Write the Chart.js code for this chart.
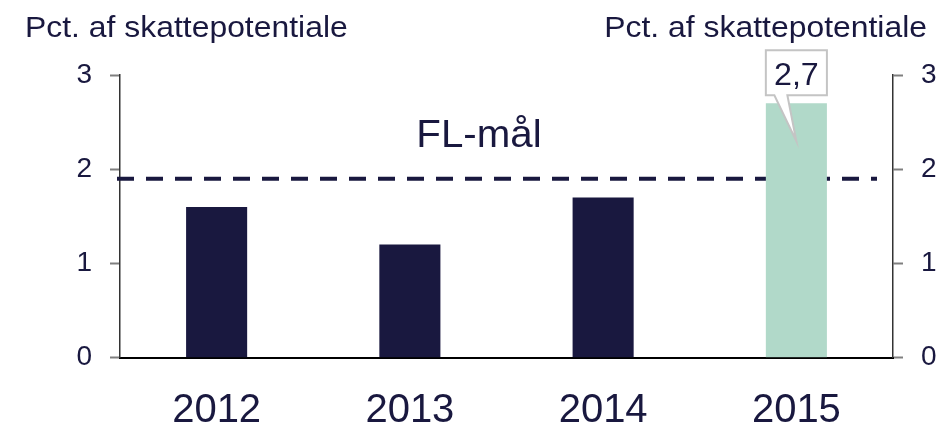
<!DOCTYPE html>
<html>
<head>
<meta charset="utf-8">
<script src="https://cdn.jsdelivr.net/npm/chart.js@4.4.1/dist/chart.umd.min.js"></script>
<style>
  html, body { margin: 0; padding: 0; background: #fff; }
  #wrap { width: 942px; height: 425px; }
</style>
</head>
<body>
<div id="wrap"><canvas id="chart" width="942" height="425"></canvas></div>
<script>
// Data
const years = ['2012', '2013', '2014', '2015'];
const values = [1.6, 1.2, 1.7, 2.7];
const barColors = ['#19183f', '#19183f', '#19183f', '#b1d9c9'];
const flMaal = 1.9;
const yTicks = [0, 1, 2, 3];
const axisTitle = 'Pct. af skattepotentiale';
const calloutText = '2,7';

const NAVY = '#19183f';
const FONT = "'Liberation Sans', Arial, sans-serif";

// tekst lidt bredere, som i originalen
function wideText(ctx, text, x, y, align, stretch) {
    ctx.save();
    ctx.translate(x, y);
    ctx.scale(stretch, 1);
    ctx.textAlign = align;
    ctx.fillText(text, 0, 0);
    ctx.restore();
}

// stiplet FL-linje (bag søjlerne) + tekster + callout
const extras = {
    id: 'extras',
    beforeDatasetsDraw(chart) {
        const ctx = chart.ctx;
        const area = chart.chartArea;
        const y = chart.scales.y.getPixelForValue(flMaal);
        ctx.save();
        ctx.strokeStyle = NAVY;
        ctx.lineWidth = 4;
        ctx.setLineDash([17, 12]);
        ctx.beginPath();
        ctx.moveTo(area.left - 3, y);
        ctx.lineTo(area.right - 16, y);
        ctx.stroke();
        ctx.restore();
    },
    afterDraw(chart) {
        const ctx = chart.ctx;
        ctx.save();
        ctx.fillStyle = NAVY;
        ctx.textBaseline = 'alphabetic';
        ctx.font = '29px ' + FONT;
        wideText(ctx, axisTitle, 25, 37, 'left', 1.1);
        wideText(ctx, axisTitle, 927, 37, 'right', 1.1);

        ctx.font = '38px ' + FONT;
        wideText(ctx, 'FL-mål', 479, 147, 'center', 1.06);

        // callout ved sidste søjle
        const bar = chart.getDatasetMeta(0).data[3];
        const half = bar.width / 2;
        const left = bar.x - half, right = bar.x + half;
        const bottom = bar.y - 8, top = bar.y - 53;
        ctx.beginPath();
        ctx.moveTo(left, top);
        ctx.lineTo(right, top);
        ctx.lineTo(right, bottom);
        ctx.lineTo(bar.x - 9, bottom);
        ctx.lineTo(bar.x, bar.y + 38);
        ctx.lineTo(bar.x - 22, bottom);
        ctx.lineTo(left, bottom);
        ctx.closePath();
        ctx.fillStyle = '#ffffff';
        ctx.fill();
        ctx.strokeStyle = '#c4c4c4';
        ctx.lineWidth = 2;
        ctx.stroke();
        ctx.fillStyle = NAVY;
        ctx.font = '31px ' + FONT;
        wideText(ctx, calloutText, bar.x, bottom - 10, 'center', 1.04);
        ctx.restore();
    }
};

const yAxisCommon = {
    min: 0,
    max: 3,
    afterBuildTicks(scale) { scale.ticks = yTicks.map(v => ({ value: v })); },
    ticks: { color: NAVY, font: { family: FONT, size: 28 }, padding: 18 },
    grid: { drawOnChartArea: false, tickLength: 10, color: '#7f7f7f', tickWidth: 2 },
    border: { color: '#333333', width: 1.5 }
};

new Chart(document.getElementById('chart'), {
    type: 'bar',
    data: {
        labels: years,
        datasets: [{
            data: values,
            backgroundColor: barColors,
            barPercentage: 0.316,
            categoryPercentage: 1
        }]
    },
    options: {
        responsive: false,
        animation: false,
        layout: { padding: { top: 75, left: 0, right: 0, bottom: 0 } },
        plugins: { legend: { display: false }, tooltip: { enabled: false } },
        scales: {
            x: {
                ticks: { color: NAVY, font: { family: FONT, size: 40 }, padding: 29, maxRotation: 0 },
                grid: { display: false, drawTicks: false },
                border: { color: '#000000', width: 2 },
                afterFit(scale) { scale.height = 67.3; }
            },
            y: Object.assign({}, yAxisCommon, {
                position: 'left',
                afterFit(scale) { scale.width = 120; }
            }),
            y2: Object.assign({}, yAxisCommon, {
                position: 'right',
                afterFit(scale) { scale.width = 49; }
            })
        }
    },
    plugins: [extras]
});
</script>
</body>
</html>
